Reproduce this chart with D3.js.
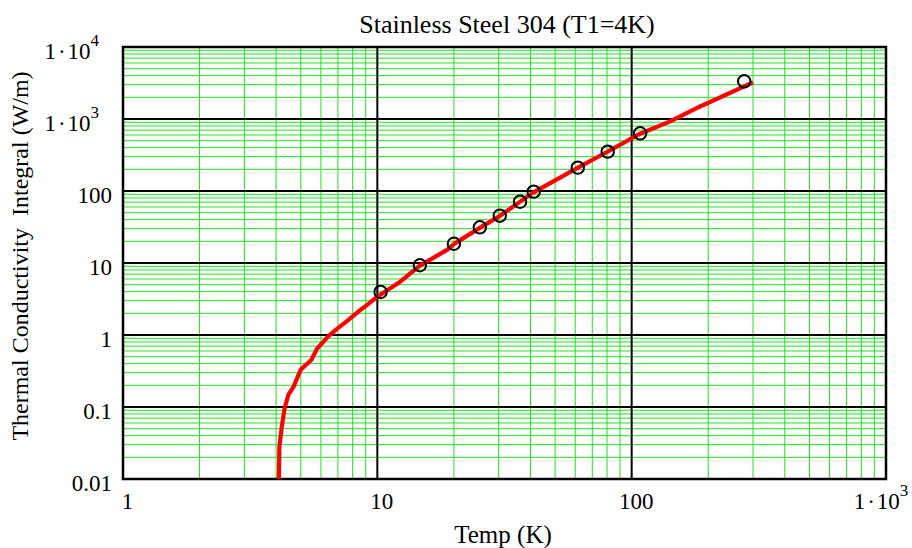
<!DOCTYPE html>
<html>
<head>
<meta charset="utf-8">
<script src="https://cdn.jsdelivr.net/npm/d3@7"></script>
<style>
  html, body { margin: 0; padding: 0; background: #fff; }
  svg { display: block; font-family: "Liberation Serif", "Times New Roman", serif; }
</style>
</head>
<body>
<svg id="chart" width="912" height="548"></svg>
<script>
// ---- data ----
const chartTitle = "Stainless Steel 304 (T1=4K)";
const xTitle = "Temp (K)";
const yTitle = "Thermal Conductivity  Integral (W/m)";

const xTicks = [1, 10, 100, 1000];
const xTickBase = ["1", "10", "100", "1\u200A\u00B7\u200A10"];
const xTickExp = ["", "", "", "3"];

const yTicks = [0.01, 0.1, 1, 10, 100, 1000, 10000];
const yTickBase = ["0.01", "0.1", "1", "10", "100", "1\u200A\u00B7\u200A10", "1\u200A\u00B7\u200A10"];
const yTickExp = ["", "", "", "", "", "3", "4"];

// measured points (circles)
const tData = [10.3, 14.7, 20, 25.3, 30.3, 36.4, 41.2, 61.4, 80.5, 108, 277];
const kData = [3.96, 9.3, 18.5, 31.3, 45.4, 71, 98, 211, 352, 633, 3340];

// integral curve (red line)
const tLine = [4.1, 4.12, 4.21, 4.33, 4.47, 4.68, 5.0, 5.5, 5.8, 6.4, 6.9, 7.7, 8.4, 9.1, 10, 12.3, 14.7, 18.8, 20, 25, 30, 36, 41, 61, 80, 108, 141, 185, 300];
const kLine = [0.01, 0.028, 0.053, 0.1, 0.147, 0.19, 0.33, 0.45, 0.65, 0.95, 1.2, 1.62, 2.1, 2.6, 3.4, 5.5, 9.2, 15.2, 18.3, 30, 44, 69, 95, 208, 348, 625, 920, 1480, 3230];

// ---- layout ----
const svg = d3.select("#chart");
const L = 123, R = 886, T = 47, B = 479;
const x = d3.scaleLog().domain([1, 1000]).range([L, R]);
const y = d3.scaleLog().domain([0.01, 10000]).range([B, T]);

svg.append("rect").attr("width", 912).attr("height", 548).attr("fill", "#fff");

// minor grid
const minorX = [];
for (let d = 1; d < 1000; d *= 10) for (let k = 2; k <= 9; k++) minorX.push(d * k);
const minorY = [];
for (let d = 0.01; d < 10000; d *= 10) for (let k = 2; k <= 9; k++) minorY.push(+(d * k).toPrecision(6));

const g = svg.append("g");
g.selectAll("line.mx").data(minorX).enter().append("line")
  .attr("x1", d => x(d)).attr("x2", d => x(d)).attr("y1", T).attr("y2", B)
  .attr("stroke", "#22e022").attr("stroke-width", 1);
g.selectAll("line.my").data(minorY).enter().append("line")
  .attr("y1", d => y(d)).attr("y2", d => y(d)).attr("x1", L).attr("x2", R)
  .attr("stroke", "#22e022").attr("stroke-width", 1);

// major grid
g.selectAll("line.Mx").data(xTicks).enter().append("line")
  .attr("x1", d => x(d)).attr("x2", d => x(d)).attr("y1", T).attr("y2", B)
  .attr("stroke", "#000").attr("stroke-width", 2);
g.selectAll("line.My").data(yTicks).enter().append("line")
  .attr("y1", d => y(d)).attr("y2", d => y(d)).attr("x1", L).attr("x2", R)
  .attr("stroke", "#000").attr("stroke-width", 2);

// frame
svg.append("rect").attr("x", L).attr("y", T).attr("width", R - L).attr("height", B - T)
  .attr("fill", "none").attr("stroke", "#000").attr("stroke-width", 2.5);

// y tick labels
yTicks.forEach((v, i) => {
  const t = svg.append("text").attr("font-size", 23).attr("fill", "#000");
  if (yTickExp[i]) {
    t.attr("x", 99).attr("y", y(v) + 12).attr("text-anchor", "end");
    t.append("tspan").text(yTickBase[i]);
    t.append("tspan").attr("font-size", 17).attr("dy", -13).text(yTickExp[i]);
  } else {
    t.attr("x", 112).attr("y", y(v) + 12).attr("text-anchor", "end").text(yTickBase[i]);
  }
});

// x tick labels
xTicks.forEach((v, i) => {
  const t = svg.append("text").attr("font-size", 23).attr("fill", "#000").attr("y", 509);
  if (xTickExp[i]) {
    t.attr("x", x(v) - 5).attr("text-anchor", "middle");
    t.append("tspan").text(xTickBase[i]);
    t.append("tspan").attr("font-size", 17).attr("dy", -13).text(xTickExp[i]);
  } else {
    t.attr("x", x(v) + 4.5).attr("text-anchor", "middle").text(xTickBase[i]);
  }
});

// titles
svg.append("text").attr("x", 507).attr("y", 33).attr("text-anchor", "middle")
  .attr("font-size", 26).text(chartTitle);
svg.append("text").attr("x", 503).attr("y", 543).attr("text-anchor", "middle")
  .attr("font-size", 25).text(xTitle);
svg.append("text").attr("transform", "translate(28,256) rotate(-90)")
  .attr("text-anchor", "middle").attr("font-size", 24)
  .style("white-space", "pre").text(yTitle);

// clip
svg.append("clipPath").attr("id", "clip").append("rect")
  .attr("x", L).attr("y", T).attr("width", R - L).attr("height", B - T);

// red line
const lineData = tLine.map((t, i) => [t, kLine[i]]);
svg.append("path").datum(lineData).attr("clip-path", "url(#clip)")
  .attr("d", d3.line().x(d => x(d[0])).y(d => y(d[1])))
  .attr("fill", "none").attr("stroke", "#ff0000").attr("stroke-width", 4.2)
  .attr("stroke-linejoin", "round");

// circles
const ptData = tData.map((t, i) => [t, kData[i]]);
svg.selectAll("circle.pt").data(ptData).enter().append("circle")
  .attr("cx", d => x(d[0])).attr("cy", d => y(d[1])).attr("r", 6.2)
  .attr("fill", "none").attr("stroke", "#000").attr("stroke-width", 2);
</script>
</body>
</html>
